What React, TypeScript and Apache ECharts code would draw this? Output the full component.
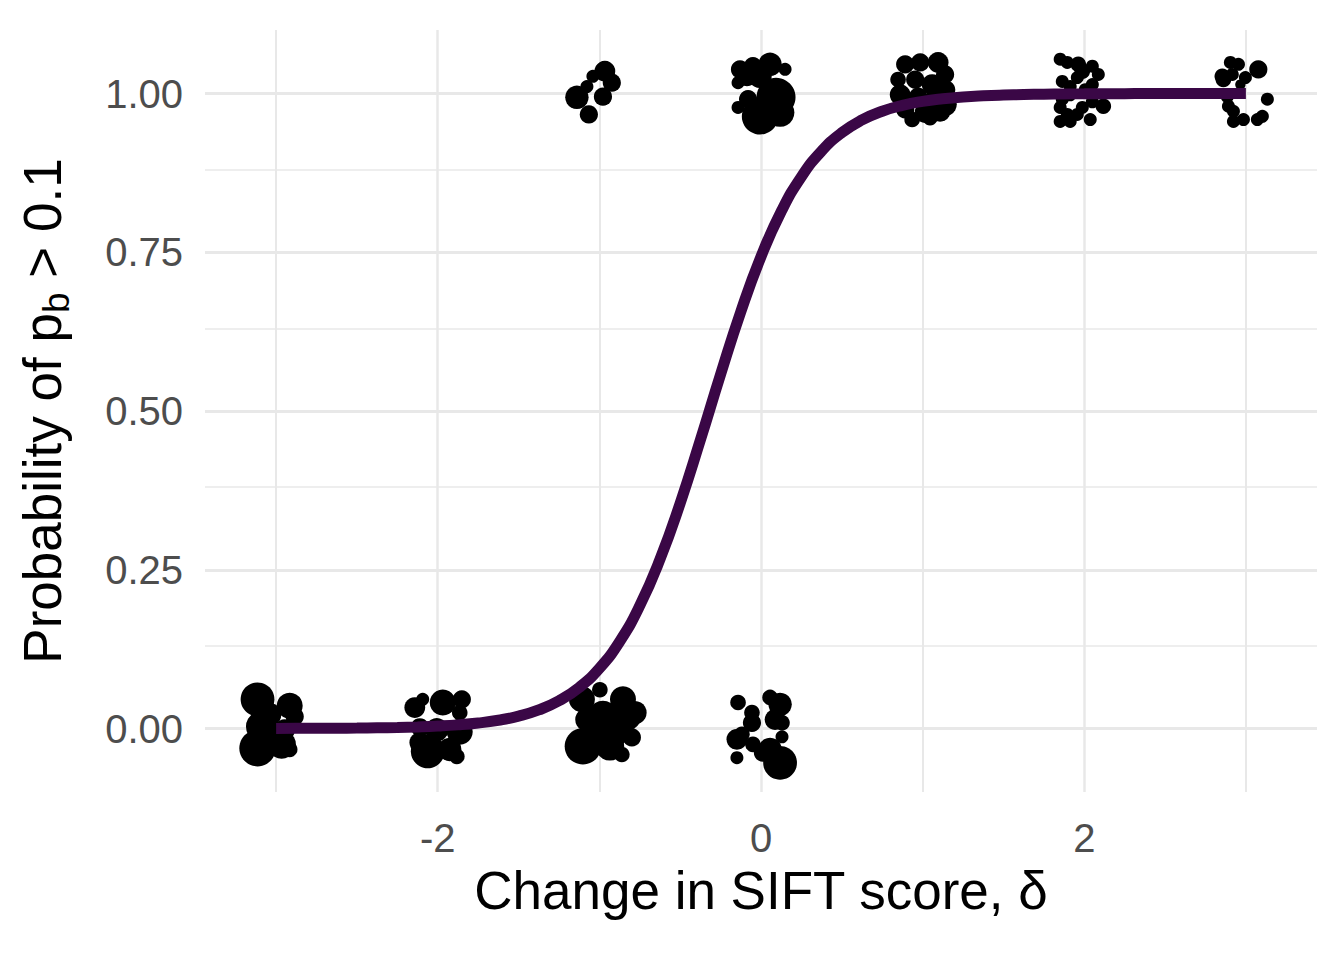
import React, { useEffect, useRef } from "react";
import * as echarts from "echarts";

// Fitted curve (x step 0.125)
const curveX = [
  -3, -2.875, -2.75, -2.625, -2.5, -2.375, -2.25, -2.125, -2, -1.875, -1.75, -1.625, -1.5, -1.375, -1.25, -1.125,
  -1, -0.875, -0.75, -0.625, -0.5, -0.375, -0.25, -0.125, 0, 0.125, 0.25, 0.375, 0.5, 0.625, 0.75, 0.875,
  1, 1.125, 1.25, 1.375, 1.5, 1.625, 1.75, 1.875, 2, 2.125, 2.25, 2.375, 2.5, 2.625, 2.75, 2.875, 3,
];
const curveY = [
  0.0001, 0.0002, 0.0003, 0.0005, 0.0007, 0.0011, 0.0016, 0.0025, 0.0038, 0.0057, 0.0086, 0.013, 0.0195, 0.0292, 0.0436, 0.0646,
  0.0947, 0.1367, 0.1934, 0.2664, 0.3548, 0.4544, 0.5577, 0.6564, 0.7431, 0.8141, 0.869, 0.9094, 0.9383, 0.9584, 0.9721, 0.9814,
  0.9877, 0.9918, 0.9946, 0.9964, 0.9976, 0.9984, 0.999, 0.9993, 0.9995, 0.9997, 0.9998, 0.9999, 0.9999, 0.9999, 1.0, 1.0, 1.0,
];

// Jittered points: [x, y, size]
const ptsM3Low = [
  [-3.115, 0.046, 26], [-2.916, 0.036, 20], [-2.885, 0.019, 14], [-3.09, 0.003, 24], [-3.115, -0.031, 28],
  [-2.966, -0.025, 22], [-2.916, -0.033, 12], [-3.04, 0.022, 18], [-2.947, -0.002, 16],
];
const ptsM2Low = [
  [-2.093, 0.046, 10], [-2.142, 0.033, 16], [-1.969, 0.041, 20], [-1.851, 0.046, 14], [-1.864, 0.025, 12],
  [-2.111, -0.022, 16], [-2.062, -0.036, 26], [-1.926, -0.033, 18], [-1.882, -0.044, 12], [-1.864, -0.005, 20],
  [-2.006, -0.002, 18], [-2.111, 0.002, 14],
];
const ptsM1Low = [
  [-1.108, 0.046, 20], [-0.854, 0.046, 20], [-0.83, 0.019, 22], [-1.077, 0.014, 18], [-0.978, 0.019, 24],
  [-1.102, -0.028, 28], [-0.935, -0.028, 22], [-0.861, -0.041, 12], [-0.799, -0.014, 14], [-1.04, -0.006, 20],
  [-0.916, -0.006, 24], [-0.78, 0.025, 18], [-0.997, 0.061, 12],
];
const pts0Low = [
  [-0.142, 0.041, 12], [-0.056, 0.025, 12], [-0.056, 0.009, 14], [0.056, 0.049, 12], [0.118, 0.038, 18],
  [0.087, 0.014, 16], [0.13, 0.009, 12], [-0.149, -0.017, 16], [-0.118, -0.009, 12], [-0.149, -0.046, 10],
  [-0.05, -0.025, 12], [0.118, -0.054, 26], [0.13, -0.013, 10], [0.056, -0.033, 18], [0.012, -0.038, 14],
];
const ptsM1High = [
  [-0.966, 1.035, 16], [-0.923, 1.017, 14], [-0.978, 0.995, 14], [-1.077, 1.011, 10], [-1.139, 0.994, 18],
  [-1.065, 0.967, 14], [-1.04, 1.027, 10],
];
const pts0High = [
  [-0.13, 1.038, 14], [-0.05, 1.043, 14], [0.056, 1.046, 18], [0.149, 1.038, 10], [-0.087, 1.03, 18],
  [-0.006, 1.027, 18], [-0.142, 1.017, 10], [0.093, 0.994, 30], [-0.006, 0.964, 28], [-0.142, 0.978, 10],
  [-0.08, 0.991, 14], [0.118, 0.97, 22],
];
const pts1High = [
  [0.892, 1.046, 14], [0.985, 1.049, 14], [1.096, 1.049, 16], [1.139, 1.03, 14], [0.848, 1.022, 12],
  [0.954, 1.022, 14], [1.059, 1.014, 16], [1.146, 1.006, 14], [0.861, 0.998, 16], [0.972, 0.995, 14],
  [1.077, 0.991, 16], [1.139, 0.983, 18], [0.892, 0.975, 14], [1.015, 0.97, 16], [1.108, 0.972, 16],
  [0.935, 0.959, 12], [1.046, 0.962, 12],
];
const pts2High = [
  [1.851, 1.054, 10], [1.895, 1.049, 10], [1.963, 1.046, 12], [2.05, 1.043, 10], [2.087, 1.03, 10],
  [1.988, 1.035, 12], [1.957, 1.025, 10], [1.864, 1.019, 10], [1.913, 1.011, 10], [2.05, 1.014, 10],
  [2.006, 1.006, 10], [1.913, 0.998, 10], [1.864, 0.991, 10], [2.05, 0.987, 10], [2.118, 0.98, 12],
  [1.851, 0.978, 10], [1.988, 0.978, 10], [1.957, 0.967, 10], [1.895, 0.967, 10], [2.037, 0.959, 10],
  [1.851, 0.956, 10], [1.913, 0.956, 10],
];
const pts3High = [
  [2.904, 1.049, 10], [2.954, 1.046, 10], [3.077, 1.038, 14], [2.854, 1.027, 12], [2.916, 1.03, 10],
  [2.997, 1.025, 10], [2.861, 1.022, 12], [2.966, 1.014, 8], [2.885, 0.995, 10], [3.133, 0.991, 10],
  [2.892, 0.98, 10], [2.923, 0.972, 10], [2.985, 0.959, 10], [2.923, 0.956, 10], [3.071, 0.959, 10],
  [3.102, 0.964, 10],
];

const xMajor = [-2, 0, 2];
const xMinor = [-3, -1, 1, 3];
const yMajor = [0, 0.25, 0.5, 0.75, 1];
const yMinor = [0.125, 0.375, 0.625, 0.875];

const FONT = "'Liberation Sans', Arial, Helvetica, sans-serif";
const GRID_COLOR = "#e8e8e8";
const LINE_COLOR = "#3a0746";

export default function App() {
  const ref = useRef<HTMLDivElement>(null);
  useEffect(() => {
    if (!ref.current) return;
    const chart = echarts.init(ref.current, null, { renderer: "svg" });
    const allPts = [
      ...ptsM3Low, ...ptsM2Low, ...ptsM1Low, ...pts0Low,
      ...ptsM1High, ...pts0High, ...pts1High, ...pts2High, ...pts3High,
    ];
    const gridLines = [
      ...xMajor.map((v) => ({ xAxis: v, lineStyle: { width: 2.5 } })),
      ...xMinor.map((v) => ({ xAxis: v, lineStyle: { width: 2 } })),
      ...yMajor.map((v) => ({ yAxis: v, lineStyle: { width: 3 } })),
      ...yMinor.map((v) => ({ yAxis: v, lineStyle: { width: 1.5 } })),
    ];
    chart.setOption({
      animation: false,
      backgroundColor: "#ffffff",
      textStyle: { fontFamily: FONT },
      grid: { left: 205, right: 27, top: 30, bottom: 168, containLabel: false },
      xAxis: {
        type: "value",
        min: -3.44,
        max: 3.44,
        axisLine: { show: false },
        axisTick: { show: false },
        splitLine: { show: false },
        axisLabel: {
          customValues: xMajor,
          formatter: (v: number) => String(v),
          color: "#4d4d4d",
          fontSize: 40,
          fontFamily: FONT,
          margin: 26,
        },
        name: "Change in SIFT score, δ",
        nameLocation: "middle",
        nameGap: 72,
        nameTextStyle: { color: "#000000", fontSize: 53, fontFamily: FONT },
      },
      yAxis: {
        type: "value",
        min: -0.1,
        max: 1.1,
        axisLine: { show: false },
        axisTick: { show: false },
        splitLine: { show: false },
        axisLabel: {
          customValues: yMajor,
          formatter: (v: number) => v.toFixed(2),
          color: "#4d4d4d",
          fontSize: 40,
          fontFamily: FONT,
          margin: 22,
        },
        name: "{a|Probability of p}{sub|b}{a| > 0.1}",
        nameLocation: "middle",
        nameRotate: 90,
        nameGap: 130,
        nameTextStyle: {
          color: "#000000",
          fontFamily: FONT,
          rich: {
            a: { fontSize: 53, fontFamily: FONT, color: "#000", padding: [0, 0, 6, 0], verticalAlign: "bottom" },
            sub: { fontSize: 37, fontFamily: FONT, color: "#000", verticalAlign: "bottom" },
          },
        },
      },
      series: [
        {
          type: "scatter",
          data: [],
          z: 0,
          silent: true,
          markLine: {
            silent: true,
            z: 0,
            symbol: ["none", "none"],
            label: { show: false },
            lineStyle: { color: GRID_COLOR, type: "solid" },
            data: gridLines,
          },
        },
        {
          type: "scatter",
          data: allPts,
          z: 2,
          symbol: "circle",
          symbolSize: (v: number[]) => v[2] * 1.3,
          itemStyle: { color: "#000000", opacity: 1 },
        },
        {
          type: "line",
          data: curveX.map((x, i) => [x, curveY[i]]),
          z: 3,
          smooth: true,
          showSymbol: false,
          lineStyle: { color: LINE_COLOR, width: 11, cap: "butt" },
        },
      ],
    });
    return () => chart.dispose();
  }, []);
  return (
    <div
      ref={ref}
      style={{ position: "fixed", left: 0, top: 0, width: 1344, height: 960, background: "#fff" }}
    />
  );
}
